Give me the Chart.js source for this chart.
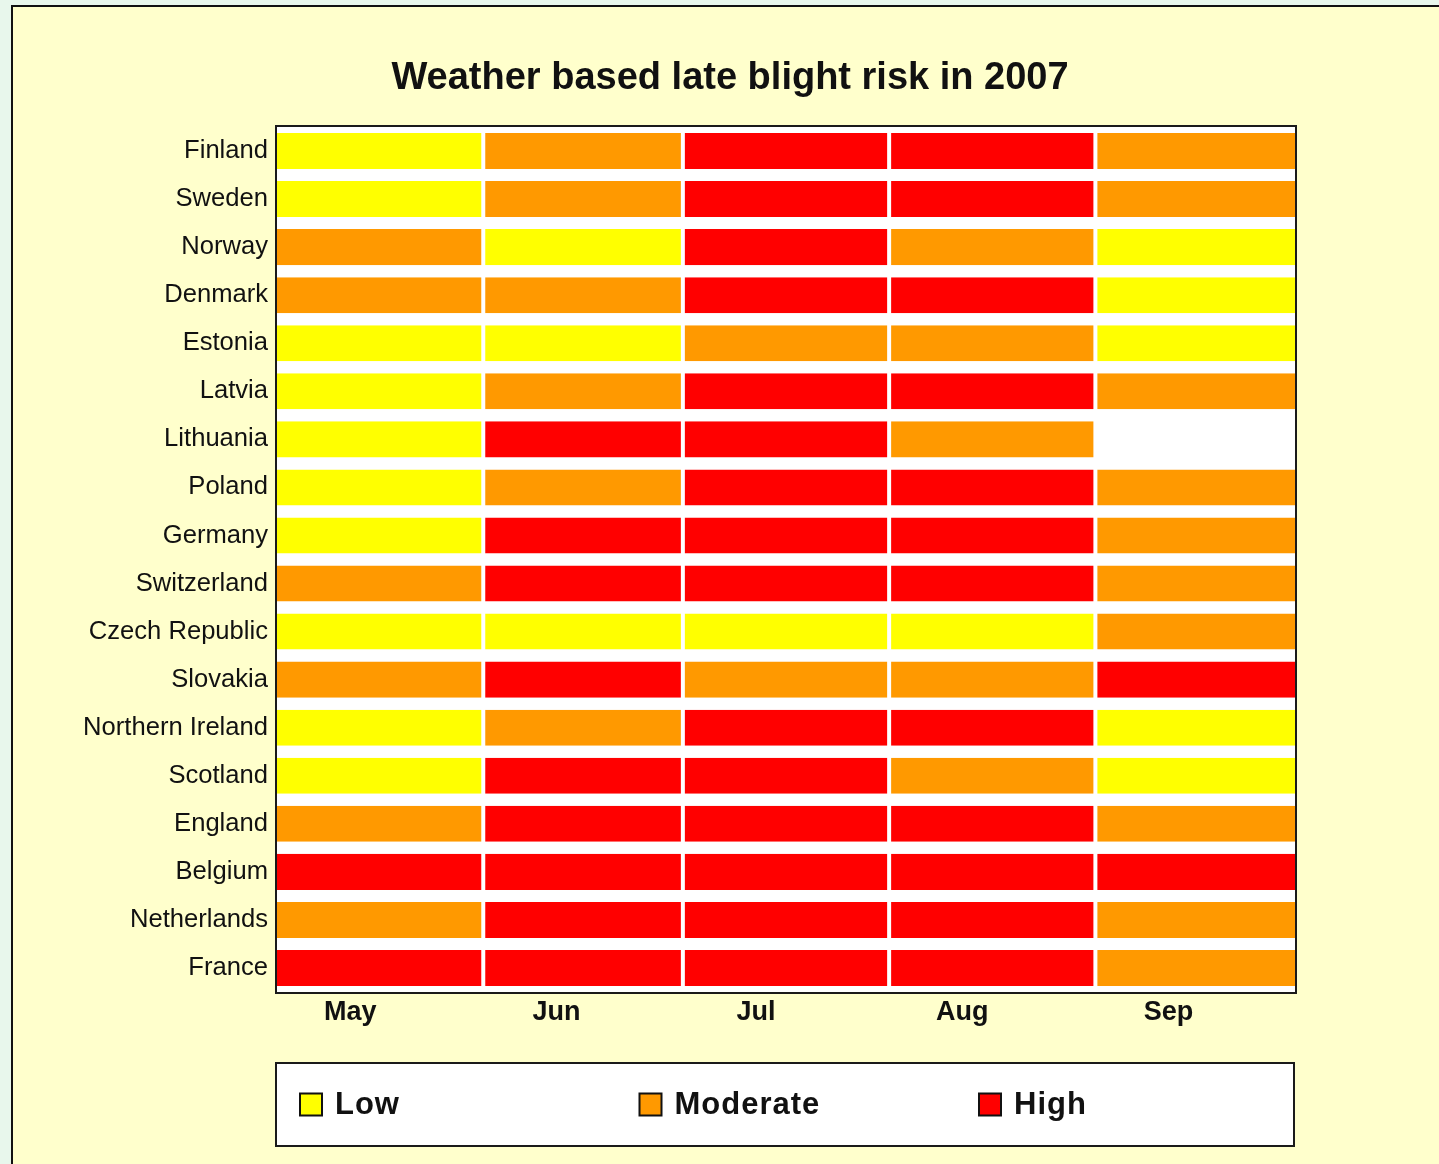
<!DOCTYPE html>
<html><head><meta charset="utf-8">
<script src="https://cdn.jsdelivr.net/npm/chart.js@4"></script>
<style>
html,body{margin:0;padding:0;background:#e8f7ec;overflow:hidden;width:1439px;height:1164px;}
#frame{position:absolute;left:11px;top:5px;width:1440px;height:1170px;border-left:2px solid #111;border-top:2px solid #111;background:#ffffcc;}
#wrap{position:absolute;left:0;top:0;width:1426px;height:1157px;}
</style></head><body>
<div id="frame"><div id="wrap"><canvas id="c"></canvas></div></div>
<script>
const countries = ['Finland','Sweden','Norway','Denmark','Estonia','Latvia','Lithuania','Poland','Germany','Switzerland','Czech Republic','Slovakia','Northern Ireland','Scotland','England','Belgium','Netherlands','France'];
const months = ['May','Jun','Jul','Aug','Sep'];
const monthDays = [31,30,31,31,30];
const riskLevels = ['Low','Moderate','High'];
const riskColors = ['#ffff00','#ff9900','#ff0000'];
// risk index per country: 0 = Low, 1 = Moderate, 2 = High, null = no data
const riskMay = [0,0,1,1,0,0,0,0,0,1,0,1,0,0,1,2,1,2];
const riskJun = [1,1,0,1,0,1,2,1,2,2,0,2,1,2,2,2,2,2];
const riskJul = [2,2,2,2,1,2,2,2,2,2,0,1,2,2,2,2,2,2];
const riskAug = [2,2,1,2,1,2,1,2,2,2,0,1,2,1,2,2,2,2];
const riskSep = [1,1,0,0,0,1,null,1,1,1,1,2,0,0,1,2,1,1];
const title = 'Weather based late blight risk in 2007';
const labelDayOffset = 11;

const monthRisks = [riskMay, riskJun, riskJul, riskAug, riskSep];
const monthStarts = monthDays.map((d,i)=>monthDays.slice(0,i).reduce((a,b)=>a+b,0));
const totalDays = monthDays.reduce((a,b)=>a+b,0);

const datasets = months.map((m,i)=>({
  label: m,
  data: countries.map(()=>monthDays[i]),
  backgroundColor: monthRisks[i].map(r => r===null ? 'rgba(255,255,255,0)' : riskColors[r]),
  borderColor: '#ffffff',
  borderWidth: {top:0, bottom:0, left: i===0?0:2, right: i===months.length-1?0:2},
  borderSkipped: false,
  barPercentage: 0.75,
  categoryPercentage: 1.0
}));

const titleCenter = {
  id: 'titleCenter',
  afterLayout(chart){
    const tb = chart.titleBlock;
    if (tb) { tb.left = 0; tb.right = chart.width + 8; }
  }
};

const plotBox = {
  id: 'plotBox',
  beforeDatasetsDraw(chart){
    const {ctx, chartArea:a} = chart;
    ctx.save(); ctx.fillStyle = '#ffffff';
    ctx.fillRect(a.left, a.top, a.right-a.left, a.bottom-a.top);
    ctx.restore();
  },
  afterDatasetsDraw(chart){
    const {ctx, chartArea:a} = chart;
    ctx.save(); ctx.strokeStyle = '#1a1a1a'; ctx.lineWidth = 2;
    ctx.strokeRect(a.left-1, a.top-1, a.right-a.left+2, a.bottom-a.top+2);
    ctx.restore();
  }
};

const riskLegend = {
  id: 'riskLegend',
  afterDraw(chart){
    const {ctx, chartArea:a} = chart;
    const bx = a.left-1, by = a.bottom+71, bw = a.right-a.left, bh = 83;
    ctx.save();
    ctx.fillStyle = '#ffffff';
    ctx.fillRect(bx, by, bw, bh);
    ctx.strokeStyle = '#1a1a1a'; ctx.lineWidth = 2;
    ctx.strokeRect(bx, by, bw, bh);
    const cy = by + bh/2;
    const step = 339.5;
    riskLevels.forEach((lab,i)=>{
      const x = bx + 24 + i*step;
      ctx.fillStyle = riskColors[i];
      ctx.fillRect(x, cy-11, 22, 22);
      ctx.strokeStyle = '#111'; ctx.lineWidth = 2;
      ctx.strokeRect(x, cy-11, 22, 22);
      ctx.fillStyle = '#111';
      ctx.font = 'bold 31px "Liberation Sans", Arial, sans-serif';
      if ('letterSpacing' in ctx) ctx.letterSpacing = '1px';
      ctx.textBaseline = 'middle'; ctx.textAlign = 'left';
      ctx.fillText(lab, x + 35, cy + 1);
    });
    ctx.restore();
  }
};

new Chart(document.getElementById('c'), {
  type: 'bar',
  data: { labels: countries, datasets },
  options: {
    indexAxis: 'y',
    responsive: true,
    maintainAspectRatio: false,
    animation: false,
    layout: { padding: { left: 0, right: 144, top: 0, bottom: 132 } },
    plugins: {
      legend: { display: false },
      title: {
        display: true, text: title, color: '#111',
        font: { family: '"Liberation Sans", Arial, sans-serif', size: 38, weight: 'bold' },
        lineHeight: 1.2,
        padding: { top: 49, bottom: 25.4 }
      },
      tooltip: {
        callbacks: {
          label: (c) => {
            const r = monthRisks[c.datasetIndex][c.dataIndex];
            return c.dataset.label + ': ' + (r===null ? 'no data' : riskLevels[r]);
          }
        }
      }
    },
    scales: {
      x: {
        stacked: true, min: 0, max: totalDays,
        grid: { display: false, drawTicks: false },
        border: { display: false },
        afterBuildTicks: (s) => { s.ticks = monthStarts.map(v => ({ value: v + labelDayOffset })); },
        afterFit: (s) => { s.height = 40; },
        ticks: {
          autoSkip: false, maxRotation: 0, padding: 4, color: '#111',
          font: { family: '"Liberation Sans", Arial, sans-serif', size: 27, weight: 'bold' },
          callback: (v, i) => months[i]
        }
      },
      y: {
        stacked: true,
        grid: { display: false, drawTicks: false },
        border: { display: false },
        afterFit: (s) => { s.width = 264; },
        ticks: {
          padding: 9, color: '#111',
          font: { family: '"Liberation Sans", Arial, sans-serif', size: 25.6 }
        }
      }
    }
  },
  plugins: [titleCenter, plotBox, riskLegend]
});
</script>
</body></html>
